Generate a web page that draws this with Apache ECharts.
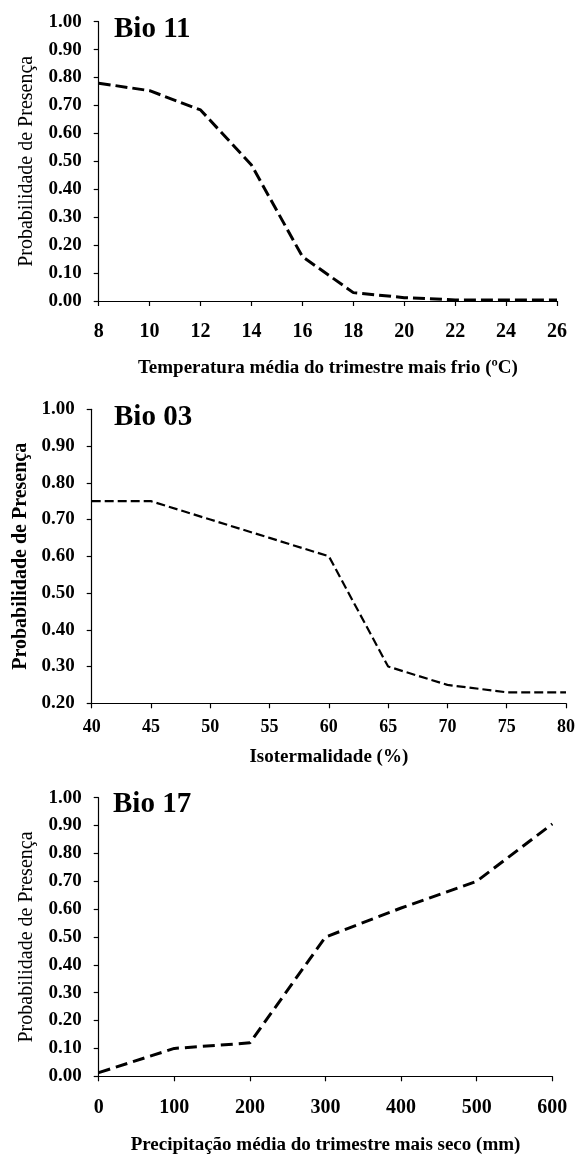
<!DOCTYPE html>
<html>
<head>
<meta charset="utf-8">
<script src="https://cdn.jsdelivr.net/npm/echarts@6/dist/echarts.min.js"></script>
<style>
html,body{margin:0;padding:0;background:#fff;}
#c{width:578px;height:1156px;}
</style>
</head>
<body>
<div id="c"></div>
<script>
// ---- Data ----
const bio11X = [8, 10, 12, 14, 16, 18, 20, 22, 24, 26];
const bio11Y = [0.78, 0.753, 0.684, 0.487, 0.159, 0.03, 0.012, 0.004, 0.004, 0.004];

const bio03X = [40, 45, 50, 55, 60, 65, 70, 75, 80];
const bio03Y = [0.75, 0.75, 0.70, 0.65, 0.60, 0.30, 0.25, 0.23, 0.23];

const bio17X = [0, 100, 200, 300, 400, 500, 600];
const bio17Y = [0.013, 0.10, 0.12, 0.50, 0.604, 0.70, 0.906];

const panelTitles = ['Bio 11', 'Bio 03', 'Bio 17'];
const xTitles = ['Temperatura média do trimestre mais frio (ºC)', 'Isotermalidade (%)', 'Precipitação média do trimestre mais seco (mm)'];
const yTitle = 'Probabilidade de Presença';

const FONT = "'Liberation Serif', 'Times New Roman', serif";

function pairs(xs, ys) { return xs.map((x, i) => [x, ys[i]]); }

const chart = echarts.init(document.getElementById('c'), null, {renderer: 'canvas'});

const grids = [
  {left: 98.7, top: 21.7, width: 557 - 98.7, height: 301 - 21.7},
  {left: 91.7, top: 409.3, width: 567.7 - 91.7, height: 703.3 - 409.3},
  {left: 98.7, top: 797.7, width: 552.3 - 98.7, height: 1076.3 - 797.7}
];

function xAxis(idx, min, max, interval, labelSize, labelMargin, nameGap) {
  return {
    type: 'value', gridIndex: idx, min: min, max: max, interval: interval,
    axisLine: {show: true, onZero: false, lineStyle: {color: '#000', width: 1.2}},
    axisTick: {show: true, inside: false, length: 5, lineStyle: {color: '#000', width: 1.2}},
    splitLine: {show: false},
    axisLabel: {show: true, color: '#000', fontFamily: FONT, fontWeight: 'bold', fontSize: labelSize, margin: labelMargin, showMinLabel: true, showMaxLabel: true, hideOverlap: false},
    name: xTitles[idx], nameLocation: 'middle', nameGap: nameGap,
    nameTextStyle: {color: '#000', fontFamily: FONT, fontWeight: 'bold', fontSize: 19}
  };
}

function yAxis(idx, min, nameWeight, nameGap) {
  return {
    type: 'value', gridIndex: idx, min: min, max: 1, interval: 0.1,
    axisLine: {show: true, onZero: false, lineStyle: {color: '#000', width: 1.2}},
    axisTick: {show: true, inside: false, length: 5, lineStyle: {color: '#000', width: 1.2}},
    splitLine: {show: false},
    axisLabel: {show: true, color: '#000', fontFamily: FONT, fontWeight: 'bold', fontSize: 19, margin: 17,
      showMinLabel: true, showMaxLabel: true, hideOverlap: false,
      formatter: v => v.toFixed(2)},
    name: yTitle, nameLocation: 'middle', nameRotate: 90, nameGap: nameGap,
    nameTextStyle: {color: '#000', fontFamily: FONT, fontWeight: nameWeight, fontSize: 20}
  };
}

const option = {
  backgroundColor: '#fff',
  animation: false,
  grid: grids,
  xAxis: [
    xAxis(0, 8, 26, 2, 20, 21, 58),
    xAxis(1, 40, 80, 5, 18, 15, 44),
    xAxis(2, 0, 600, 100, 20, 21.5, 59)
  ],
  yAxis: [
    yAxis(0, 0, 'normal', 62),
    yAxis(1, 0.2, 'bold', 53),
    yAxis(2, 0, 'normal', 62)
  ],
  series: [
    {type: 'line', xAxisIndex: 0, yAxisIndex: 0, data: pairs(bio11X, bio11Y), showSymbol: false, symbol: 'none',
      lineStyle: {color: '#000', width: 3, type: [12, 5]}},
    {type: 'line', xAxisIndex: 1, yAxisIndex: 1, data: pairs(bio03X, bio03Y), showSymbol: false, symbol: 'none',
      lineStyle: {color: '#000', width: 2.2, type: [9, 4]}},
    {type: 'line', xAxisIndex: 2, yAxisIndex: 2, data: pairs(bio17X, bio17Y), showSymbol: false, symbol: 'none',
      lineStyle: {color: '#000', width: 3, type: [12, 6]}}
  ],
  graphic: [
    {type: 'text', left: 114, top: 29.8 - 15, style: {text: panelTitles[0], fill: '#000', font: "bold 29px " + FONT}},
    {type: 'text', left: 114, top: 418.2 - 15, style: {text: panelTitles[1], fill: '#000', font: "bold 29px " + FONT}},
    {type: 'text', left: 113, top: 805.5 - 15, style: {text: panelTitles[2], fill: '#000', font: "bold 29px " + FONT}}
  ]
};

chart.setOption(option);
</script>
</body>
</html>
